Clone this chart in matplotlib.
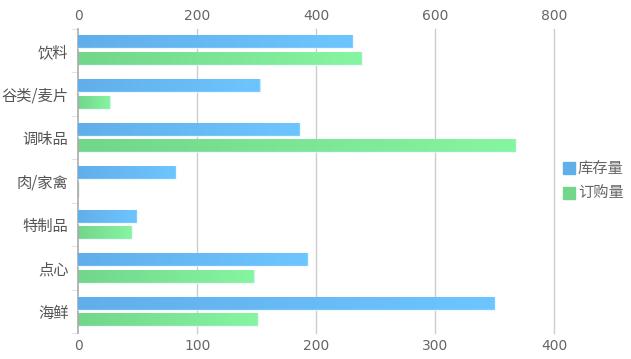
import matplotlib
matplotlib.use("Agg")
import matplotlib.pyplot as plt
from matplotlib.colors import LinearSegmentedColormap
import numpy as np

plt.rcParams["font.family"] = ["Noto Sans CJK SC", "DejaVu Sans"]

# ── data ──────────────────────────────────────────────────────────────────────
categories = ["饮料", "谷类/麦片", "调味品", "肉/家禽", "特制品", "点心", "海鲜"]
stock = [461, 306, 373, 164, 99, 386, 700]      # 库存量, top axis (0-800)
orders = [238, 27, 368, 0, 45, 148, 151]        # 订购量, bottom axis (0-400)
top_ticks = [0, 200, 400, 600, 800]
bottom_ticks = [0, 100, 200, 300, 400]

BLUE = ("#61afea", "#6dc5ff")
GREEN = ("#72d68b", "#86f5a1")
TEXT = "#666666"
GRID = "#cccccc"

W, H = 631, 359
fig = plt.figure(figsize=(W / 100, H / 100), dpi=100)
ax = fig.add_axes([78.3 / W, 1 - 333.3 / H, 476 / W, (333.3 - 28.7) / H])
ax_top = ax.twiny()

n = len(categories)
ypos = np.arange(n)
bar_h = 0.29
gap = 0.09


def grad_bars(axis, values, offset, colors):
    cmap = LinearSegmentedColormap.from_list("g", colors)
    grad = np.linspace(0, 1, 64).reshape(1, -1)
    for y, v in zip(ypos, values):
        y0, y1 = y + offset - bar_h / 2, y + offset + bar_h / 2
        if v <= 0:
            axis.plot([0, 0], [y0, y1], color=colors[1], lw=1, zorder=3)
            continue
        axis.imshow(grad, cmap=cmap, extent=[0, v, y1, y0], aspect="auto",
                    interpolation="bilinear", zorder=3)
        axis.plot([0, v, v], [y1, y1, y0], color="#e8f6ff", alpha=0.7, lw=1,
                  zorder=4)


grad_bars(ax_top, stock, -(bar_h + gap) / 2, BLUE)
grad_bars(ax, orders, (bar_h + gap) / 2, GREEN)

for a, lim, ticks in ((ax, 400, bottom_ticks), (ax_top, 800, top_ticks)):
    a.set_xlim(0, lim)
    a.set_ylim(n - 0.5, -0.5)
    a.set_xticks(ticks)
    a.set_xticklabels([str(t) for t in ticks], family="DejaVu Sans")
    a.tick_params(axis="x", length=0, colors=TEXT, labelsize=10, pad=4)
    for s in a.spines.values():
        s.set_visible(False)

for t in bottom_ticks[1:]:
    ax.axvline(t, color=GRID, lw=1, zorder=1, clip_on=False)
ax.axvline(0, color="#aaaaaa", lw=1.2, zorder=5, clip_on=False)

ax.set_yticks(ypos)
ax.set_yticklabels(categories)
ax.set_yticks(np.arange(n + 1) - 0.5, minor=True)
ax.tick_params(axis="y", which="major", length=0, colors="#555555",
               labelsize=11, pad=7)
ax.tick_params(axis="y", which="minor", length=5, color="#dddddd")

# ── legend ───────────────────────────────────────────────────────────────────
for label, col, yc in (("库存量", BLUE[0], 168), ("订购量", GREEN[0], 192.5)):
    fig.patches.append(plt.Rectangle((562.5 / W, 1 - (yc + 6) / H), 12 / W, 12 / H,
                                     transform=fig.transFigure, color=col))
    fig.text(578 / W, 1 - yc / H, label, fontsize=11, color=TEXT,
             va="center", ha="left")

fig.savefig("out.png", dpi=100)
